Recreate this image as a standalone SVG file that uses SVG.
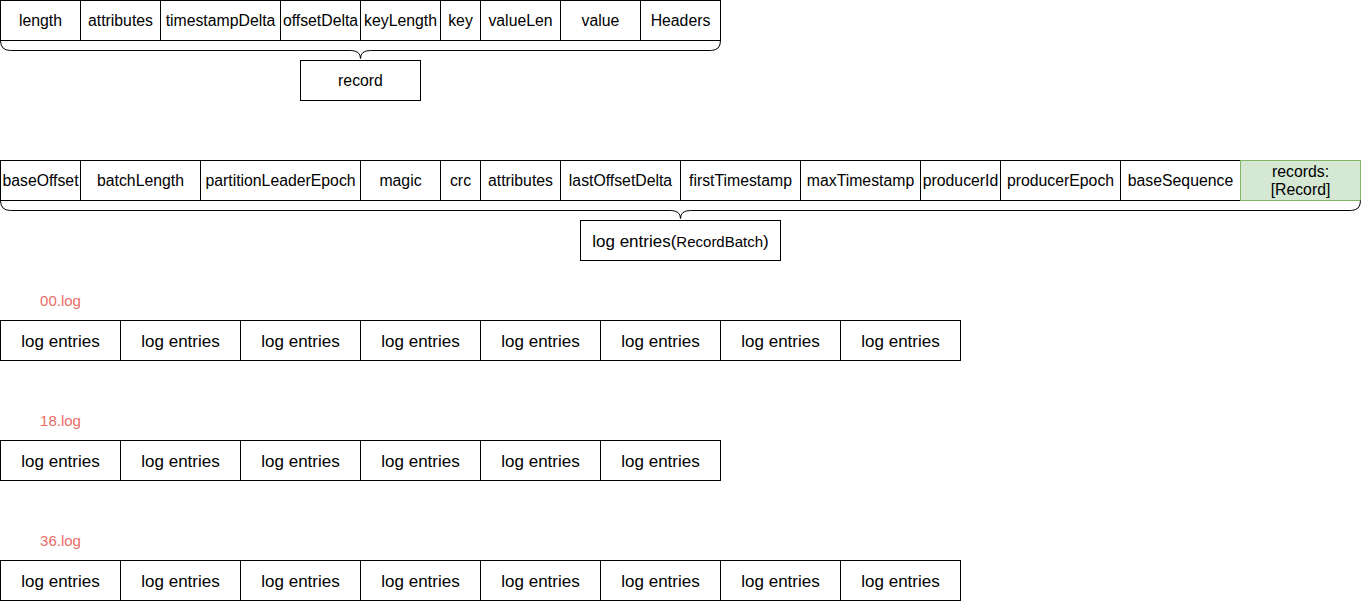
<svg xmlns="http://www.w3.org/2000/svg" width="1361" height="601" viewBox="0 0 1361 601">
<style>
.c{fill:#fff;stroke:#000;stroke-width:1}
.g{fill:#d5e8d4;stroke:#82b366;stroke-width:1}
.n{font-family:"Liberation Sans",Arial,sans-serif;font-size:15.8px;fill:#000;text-anchor:middle}
.t{font-family:"Liberation Sans",Arial,sans-serif;font-size:17px;fill:#000;text-anchor:middle}
.s{font-size:15px}
.lbl{font-family:"Liberation Sans",Arial,sans-serif;font-size:15px;fill:#EA6B66;text-anchor:middle}
.br{fill:none;stroke:#000;stroke-width:1}
</style>
<rect width="1361" height="601" fill="#fff"/>
<g transform="translate(0.5,0.5)">
<g id="record-fields">
<g id="f-length"><rect class="c" x="0" y="0" width="80" height="40"/><text class="n" x="40" y="25">length</text></g>
<g id="f-attributes"><rect class="c" x="80" y="0" width="80" height="40"/><text class="n" x="120" y="25">attributes</text></g>
<g id="f-timestampDelta"><rect class="c" x="160" y="0" width="120" height="40"/><text class="n" x="220" y="25">timestampDelta</text></g>
<g id="f-offsetDelta"><rect class="c" x="280" y="0" width="80" height="40"/><text class="n" x="320" y="25">offsetDelta</text></g>
<g id="f-keyLength"><rect class="c" x="360" y="0" width="80" height="40"/><text class="n" x="400" y="25">keyLength</text></g>
<g id="f-key"><rect class="c" x="440" y="0" width="40" height="40"/><text class="n" x="460" y="25">key</text></g>
<g id="f-valueLen"><rect class="c" x="480" y="0" width="80" height="40"/><text class="n" x="520" y="25">valueLen</text></g>
<g id="f-value"><rect class="c" x="560" y="0" width="80" height="40"/><text class="n" x="600" y="25">value</text></g>
<g id="f-headers"><rect class="c" x="640" y="0" width="80" height="40"/><text class="n" x="680" y="25">Headers</text></g>
</g>
<g id="brace-record"><path class="br" d="M0,40 Q0,50 10,50 L350,50 Q360,50 360,58 Q360,50 370,50 L710,50 Q720,50 720,40"/></g>
<g id="record"><rect class="c" x="300" y="60" width="120" height="40"/><text class="n" x="360" y="85">record</text></g>

<g id="batch-fields">
<g id="b-baseOffset"><rect class="c" x="0" y="160" width="80" height="40"/><text class="n" x="40" y="185">baseOffset</text></g>
<g id="b-batchLength"><rect class="c" x="80" y="160" width="120" height="40"/><text class="n" x="140" y="185">batchLength</text></g>
<g id="b-partitionLeaderEpoch"><rect class="c" x="200" y="160" width="160" height="40"/><text class="n" x="280" y="185">partitionLeaderEpoch</text></g>
<g id="b-magic"><rect class="c" x="360" y="160" width="80" height="40"/><text class="n" x="400" y="185">magic</text></g>
<g id="b-crc"><rect class="c" x="440" y="160" width="40" height="40"/><text class="n" x="460" y="185">crc</text></g>
<g id="b-attributes"><rect class="c" x="480" y="160" width="80" height="40"/><text class="n" x="520" y="185">attributes</text></g>
<g id="b-lastOffsetDelta"><rect class="c" x="560" y="160" width="120" height="40"/><text class="n" x="620" y="185">lastOffsetDelta</text></g>
<g id="b-firstTimestamp"><rect class="c" x="680" y="160" width="120" height="40"/><text class="n" x="740" y="185">firstTimestamp</text></g>
<g id="b-maxTimestamp"><rect class="c" x="800" y="160" width="120" height="40"/><text class="n" x="860" y="185">maxTimestamp</text></g>
<g id="b-producerId"><rect class="c" x="920" y="160" width="80" height="40"/><text class="n" x="960" y="185">producerId</text></g>
<g id="b-producerEpoch"><rect class="c" x="1000" y="160" width="120" height="40"/><text class="n" x="1060" y="185">producerEpoch</text></g>
<g id="b-baseSequence"><rect class="c" x="1120" y="160" width="120" height="40"/><text class="n" x="1180" y="185">baseSequence</text></g>
<g id="b-records"><rect class="g" x="1240" y="160" width="120" height="40"/><text class="n" x="1300" y="176">records:</text><text class="n" x="1300" y="194">[Record]</text></g>
</g>
<g id="brace-batch"><path class="br" d="M0,200 Q0,210 10,210 L670,210 Q680,210 680,218 Q680,210 690,210 L1350,210 Q1360,210 1360,200"/></g>
<g id="record-batch"><rect class="c" x="580" y="220" width="200" height="40"/><text class="t" x="680" y="246">log entries(<tspan class="s">RecordBatch</tspan>)</text></g>

<g id="log-00">
<text class="lbl" x="60" y="305">00.log</text>
<g id="l00-1"><rect class="c" x="0" y="320" width="120" height="40"/><text class="t" x="60" y="346">log entries</text></g>
<g id="l00-2"><rect class="c" x="120" y="320" width="120" height="40"/><text class="t" x="180" y="346">log entries</text></g>
<g id="l00-3"><rect class="c" x="240" y="320" width="120" height="40"/><text class="t" x="300" y="346">log entries</text></g>
<g id="l00-4"><rect class="c" x="360" y="320" width="120" height="40"/><text class="t" x="420" y="346">log entries</text></g>
<g id="l00-5"><rect class="c" x="480" y="320" width="120" height="40"/><text class="t" x="540" y="346">log entries</text></g>
<g id="l00-6"><rect class="c" x="600" y="320" width="120" height="40"/><text class="t" x="660" y="346">log entries</text></g>
<g id="l00-7"><rect class="c" x="720" y="320" width="120" height="40"/><text class="t" x="780" y="346">log entries</text></g>
<g id="l00-8"><rect class="c" x="840" y="320" width="120" height="40"/><text class="t" x="900" y="346">log entries</text></g>
</g>

<g id="log-18">
<text class="lbl" x="60" y="425">18.log</text>
<g id="l18-1"><rect class="c" x="0" y="440" width="120" height="40"/><text class="t" x="60" y="466">log entries</text></g>
<g id="l18-2"><rect class="c" x="120" y="440" width="120" height="40"/><text class="t" x="180" y="466">log entries</text></g>
<g id="l18-3"><rect class="c" x="240" y="440" width="120" height="40"/><text class="t" x="300" y="466">log entries</text></g>
<g id="l18-4"><rect class="c" x="360" y="440" width="120" height="40"/><text class="t" x="420" y="466">log entries</text></g>
<g id="l18-5"><rect class="c" x="480" y="440" width="120" height="40"/><text class="t" x="540" y="466">log entries</text></g>
<g id="l18-6"><rect class="c" x="600" y="440" width="120" height="40"/><text class="t" x="660" y="466">log entries</text></g>
</g>

<g id="log-36">
<text class="lbl" x="60" y="545">36.log</text>
<g id="l36-1"><rect class="c" x="0" y="560" width="120" height="40"/><text class="t" x="60" y="586">log entries</text></g>
<g id="l36-2"><rect class="c" x="120" y="560" width="120" height="40"/><text class="t" x="180" y="586">log entries</text></g>
<g id="l36-3"><rect class="c" x="240" y="560" width="120" height="40"/><text class="t" x="300" y="586">log entries</text></g>
<g id="l36-4"><rect class="c" x="360" y="560" width="120" height="40"/><text class="t" x="420" y="586">log entries</text></g>
<g id="l36-5"><rect class="c" x="480" y="560" width="120" height="40"/><text class="t" x="540" y="586">log entries</text></g>
<g id="l36-6"><rect class="c" x="600" y="560" width="120" height="40"/><text class="t" x="660" y="586">log entries</text></g>
<g id="l36-7"><rect class="c" x="720" y="560" width="120" height="40"/><text class="t" x="780" y="586">log entries</text></g>
<g id="l36-8"><rect class="c" x="840" y="560" width="120" height="40"/><text class="t" x="900" y="586">log entries</text></g>
</g>
<g id="connectors"></g>
</g>
</svg>
